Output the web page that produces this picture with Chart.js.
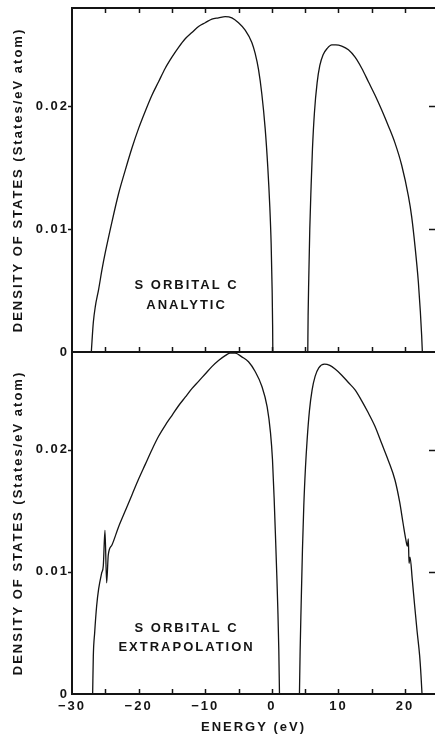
<!DOCTYPE html>
<html>
<head>
<meta charset="utf-8">
<script src="https://cdn.jsdelivr.net/npm/chart.js@4.4.1/dist/chart.umd.min.js"></script>
<style>
  body { margin: 0; background: #fff; }
  #wrap { position: relative; width: 435px; height: 736px; overflow: hidden; }
  canvas { position: absolute; left: 0; }
  #analytic { top: 0; }
  #extrap { top: 344px; }
</style>
</head>
<body>
<div id="wrap">
  <canvas id="analytic" width="435" height="362"></canvas>
  <canvas id="extrap" width="435" height="392"></canvas>
</div>
<script>
// s-orbital density of states, energy in eV, DOS in states/eV atom
const analyticLowE = [-27.1, -27.0, -26.8, -26.5, -26.0, -25.5, -25.0, -24.0, -23.0, -22.0, -21.0, -20.0, -19.0, -18.0, -17.0, -16.0, -15.0, -14.0, -13.0, -12.0, -11.0, -10.0, -9.0, -8.0, -7.0,
  -6.0, -5.0, -4.0, -3.0, -2.5, -2.0, -1.5, -1.0, -0.6, -0.3, -0.1, 0.05, 0.12, 0.15];
const analyticLowDos = [0, 0.00086, 0.0024, 0.0037, 0.0051, 0.0067, 0.0081, 0.0106, 0.0129, 0.0148, 0.0166, 0.0182, 0.0196, 0.0209, 0.0220, 0.0231, 0.0240, 0.0248, 0.0255, 0.0260, 0.0265, 0.0268, 0.0271, 0.0272, 0.0273,
  0.0272, 0.0268, 0.0262, 0.0252, 0.0243, 0.0230, 0.0210, 0.0182, 0.0150, 0.0118, 0.0088, 0.0050, 0.0022, 0];

const analyticHighE = [5.4, 5.45, 5.55, 5.7, 5.9, 6.1, 6.4, 6.8, 7.2, 7.7, 8.3, 9.0, 9.6, 10.5, 11.5, 12.5, 13.5, 14.5, 15.5, 16.5, 17.5, 18.5, 19.5, 20.5, 21.0, 21.5, 22.0, 22.3, 22.5, 22.6];
const analyticHighDos = [0, 0.0030, 0.0060, 0.0100, 0.0135, 0.0165, 0.0195, 0.0219, 0.0233, 0.0242, 0.0247, 0.0250, 0.0250, 0.0249, 0.0246, 0.0240, 0.0231, 0.0220, 0.0209, 0.0197, 0.0184, 0.0170, 0.0152, 0.0127, 0.0110, 0.0086, 0.0057, 0.0033, 0.0013, 0];

const extrapLowE = [-26.9, -26.8, -26.6, -26.3, -26.0, -25.55, -25.3, -25.05, -24.8, -24.55, -24.0, -23.0, -22.0, -21.0, -20.0, -19.0, -18.0, -17.0, -16.0, -15.0, -14.0, -13.0, -12.0, -11.0, -10.0, -9.0, -8.0, -7.0, -6.3,
  -5.5, -4.5, -3.5, -2.5, -1.5, -0.7, -0.2, 0.1, 0.35, 0.57, 0.75, 0.9, 1.05, 1.15];
const extrapLowDos = [0, 0.0031, 0.0050, 0.0072, 0.0086, 0.0099, 0.0105, 0.0134, 0.0091, 0.0114, 0.0122, 0.0137, 0.0150, 0.0163, 0.0176, 0.0188, 0.0200, 0.0211, 0.0220, 0.0228, 0.0236, 0.0243, 0.0250, 0.0256, 0.0262, 0.0268, 0.0273, 0.0277, 0.0279,
  0.0279, 0.0276, 0.0272, 0.0264, 0.0252, 0.0235, 0.0214, 0.0192, 0.0160, 0.0126, 0.0097, 0.0070, 0.0036, 0];

const extrapHighE = [4.15, 4.25, 4.4, 4.6, 4.8, 5.05, 5.3, 5.65, 6.05, 6.5, 7.05, 7.9, 8.7, 9.5, 10.5, 11.5, 12.5, 13.5, 14.5, 15.5, 16.5, 17.5, 18.5, 19.2, 19.7, 20.1, 20.35,
  20.5, 20.6, 20.75, 21.1, 21.45, 21.8, 22.2, 22.4, 22.55];
const extrapHighDos = [0, 0.0035, 0.0072, 0.0118, 0.0154, 0.0185, 0.0208, 0.0232, 0.0249, 0.0260, 0.0267, 0.0270, 0.0269, 0.0266, 0.0261, 0.0255, 0.0249, 0.0240, 0.0230, 0.0219, 0.0205, 0.0191, 0.0175, 0.0157, 0.0140, 0.0127, 0.0121,
  0.0127, 0.0107, 0.0112, 0.0093, 0.0072, 0.0052, 0.0031, 0.0015, 0];

const energyLabels = [-30, -20, -10, 0, 10, 20];
const energyMarks  = [-25, -20, -15, -10, -5, 0, 5, 10, 15, 20];
const dosTicks     = [0, 0.01, 0.02];
const dosMarks     = [0.01, 0.02];

const ink = '#141414';
const fontFamily = '"Liberation Sans", Arial, sans-serif';

Chart.defaults.font.family = fontFamily;
Chart.defaults.font.size = 13;
Chart.defaults.font.weight = 'bold';
Chart.defaults.color = ink;

// frame, inward tick marks and the panel caption
const framePlugin = {
  id: 'frame',
  beforeDraw(chart) {
    chart.ctx.letterSpacing = '2px';
  },
  afterDraw(chart, args, opts) {
    const ctx = chart.ctx;
    const a = chart.chartArea;
    const x = chart.scales.x, y = chart.scales.y;
    ctx.save();
    ctx.strokeStyle = ink;
    ctx.lineWidth = 2;
    ctx.beginPath();
    ctx.moveTo(a.right, a.top);
    ctx.lineTo(a.left, a.top);
    ctx.lineTo(a.left, a.bottom);
    ctx.lineTo(a.right, a.bottom);
    ctx.stroke();

    ctx.lineWidth = 1.5;
    ctx.beginPath();
    energyMarks.forEach(v => {
      const px = Math.round(x.getPixelForValue(v)) + 0.5;
      ctx.moveTo(px, a.bottom);
      ctx.lineTo(px, a.bottom - 5);
      if (opts.topMarks) {
        ctx.moveTo(px, a.top);
        ctx.lineTo(px, a.top + 5);
      }
    });
    dosMarks.forEach(v => {
      const py = Math.round(y.getPixelForValue(v)) + 0.5;
      ctx.moveTo(a.left, py);
      ctx.lineTo(a.left - 4, py);
      ctx.moveTo(a.right, py);
      ctx.lineTo(a.right - 6, py);
    });
    ctx.stroke();

    ctx.fillStyle = ink;
    ctx.font = 'bold 13px ' + fontFamily;
    ctx.letterSpacing = '2px';
    ctx.textAlign = 'center';
    ctx.textBaseline = 'middle';
    opts.caption.forEach((line, i) => {
      ctx.fillText(line, x.getPixelForValue(-12.8), y.getPixelForValue(0.0054 - i * 0.0016));
    });
    ctx.restore();
  }
};

function bandSet(energy, dos) {
  return {
    data: energy.map((e, i) => ({ x: e, y: dos[i] })),
    borderColor: ink,
    borderWidth: 1.3,
    pointRadius: 0,
    fill: false,
    cubicInterpolationMode: 'monotone'
  };
}

function makePanel(id, bands, showEnergy, topMarks, caption) {
  return new Chart(document.getElementById(id), {
    type: 'line',
    data: { datasets: bands.map(b => bandSet(b[0], b[1])) },
    options: {
      responsive: false,
      animation: false,
      events: [],
      layout: { padding: { top: 8, bottom: showEnergy ? 0 : 10, left: 0, right: 0 } },
      plugins: {
        legend: { display: false },
        tooltip: { enabled: false },
        frame: { topMarks: topMarks, caption: caption }
      },
      scales: {
        x: {
          type: 'linear',
          min: -30,
          max: 24.5,
          display: showEnergy,
          grid: { display: false, drawTicks: false },
          border: { display: false },
          afterBuildTicks: s => { s.ticks = energyLabels.map(v => ({ value: v })); },
          ticks: {
            padding: 5,
            maxRotation: 0,
            callback: v => v < 0 ? '\u2212' + (-v) : String(v)
          },
          title: { display: true, text: 'ENERGY (eV)', padding: { top: 0, bottom: 1 } },
          afterFit: s => {
            if (!showEnergy) return;
            s.height = 42;
            s.paddingLeft = 0;
            s.paddingRight = 0;
          }
        },
        y: {
          min: 0,
          max: 0.028,
          grid: { display: false, drawTicks: false },
          border: { display: false },
          afterBuildTicks: s => { s.ticks = dosTicks.map(v => ({ value: v })); },
          ticks: {
            padding: 3,
            callback: v => v === 0 ? '0' : v.toFixed(2)
          },
          title: { display: true, text: 'DENSITY OF STATES (States/eV atom)', padding: { top: 11, bottom: 0 } },
          afterFit: s => { s.width = 72; s.paddingTop = 0; s.paddingBottom = 0; }
        }
      }
    },
    plugins: [framePlugin]
  });
}

makePanel('analytic', [[analyticLowE, analyticLowDos], [analyticHighE, analyticHighDos]], false, true, ['S ORBITAL C', 'ANALYTIC']);
makePanel('extrap', [[extrapLowE, extrapLowDos], [extrapHighE, extrapHighDos]], true, false, ['S ORBITAL C', 'EXTRAPOLATION']);
</script>
</body>
</html>
